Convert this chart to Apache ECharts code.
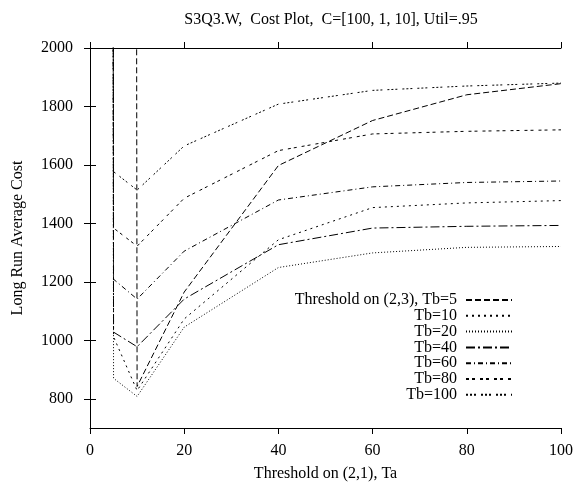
<!DOCTYPE html>
<html><head><meta charset="utf-8">
<script src="https://cdn.jsdelivr.net/npm/echarts@6/dist/echarts.min.js"></script>
<style>html,body{margin:0;padding:0;background:#fff}#c{width:576px;height:487px}</style>
</head><body><div id="c"></div>
<script>
// Threshold on (2,1), Ta
const taValues = [1, 5, 10, 20, 40, 60, 80, 100];
// Long run average cost per Tb (first points lie far above the plotted range)
const tb5   = [60000, 60000, 842, 1165, 1598, 1752, 1840, 1878];
const tb10  = [60000, 1012, 828, 1073, 1344, 1454, 1470, 1478];
const tb20  = [60000, 870, 808, 1045, 1249, 1299, 1318, 1321];
const tb40  = [60000, 1028, 978, 1141, 1327, 1384, 1390, 1393];
const tb60  = [60000, 1209, 1141, 1305, 1480, 1525, 1540, 1545];
const tb80  = [60000, 1384, 1322, 1486, 1649, 1706, 1715, 1720];
const tb100 = [60000, 1577, 1514, 1665, 1808, 1855, 1870, 1880];
const seriesNames = ['Threshold on (2,3), Tb=5', 'Tb=10', 'Tb=20', 'Tb=40', 'Tb=60', 'Tb=80', 'Tb=100'];
const xTicks = [0, 20, 40, 60, 80, 100];
const yTicks = [800, 1000, 1200, 1400, 1600, 1800, 2000];

const seriesValues = [tb5, tb10, tb20, tb40, tb60, tb80, tb100];
const dashes = [[6,3], [2,4], [1,2], [9,3,2,3], [5,3,1,3], [3,3,3,5], [2,2,2,2,2,5]];
const FONT = 'Liberation Serif';
const FS = 16;
const legendTops = [299, 314.8, 330.6, 346.4, 362.2, 378, 393.8];

const chart = echarts.init(document.getElementById('c'), null, {renderer: 'canvas'});
const series = seriesNames.map((n, i) => ({
  name: n, type: 'line', symbol: 'none', clip: true, animation: false,
  data: taValues.map((x, k) => [x, seriesValues[i][k]]),
  lineStyle: {color: '#000', width: 1, type: dashes[i]},
  itemStyle: {color: '#000'},
  emphasis: {disabled: true}
}));
const legends = seriesNames.map((n, i) => ({
  data: [n], orient: 'vertical', right: 63, top: legendTops[i] - 7,
  align: 'right', itemWidth: 46, itemHeight: 14, padding: 0, selectedMode: false,
  itemStyle: {opacity: 0},
  textStyle: {fontFamily: FONT, fontSize: FS, color: '#000', padding: [0, 4, 0, 0]}
}));
const axisCommon = {
  axisLine: {show: true, lineStyle: {color: '#000', width: 1}},
  splitLine: {show: false},
  axisTick: {show: true, inside: false, length: 6, lineStyle: {color: '#000'}}
};
chart.setOption({
  animation: false,
  backgroundColor: '#fff',
  title: {text: 'S3Q3.W,  Cost Plot,  C=[100, 1, 10], Util=.95', left: 326, top: 7, textAlign: 'center',
    textStyle: {fontFamily: FONT, fontSize: FS, fontWeight: 'normal', color: '#000'}},
  legend: legends,
  grid: {left: 90, right: 14, top: 48, bottom: 55, containLabel: false},
  xAxis: [
    Object.assign({type: 'value', min: 0, max: 100, interval: 20, position: 'bottom',
      name: 'Threshold on (2,1), Ta', nameLocation: 'middle', nameGap: 38,
      nameTextStyle: {fontFamily: FONT, fontSize: FS, color: '#000'},
      axisLabel: {margin: 15, fontFamily: FONT, fontSize: FS, color: '#000',
        customValues: xTicks}}, axisCommon),
    Object.assign({type: 'value', min: 0, max: 100, interval: 20, position: 'top',
      axisLabel: {show: false}}, axisCommon)
  ],
  yAxis: [
    Object.assign({type: 'value', min: 700, max: 2000, position: 'left',
      name: 'Long Run Average Cost', nameLocation: 'middle', nameGap: 64,
      nameTextStyle: {fontFamily: FONT, fontSize: FS, color: '#000'},
      axisLabel: {margin: 17, fontFamily: FONT, fontSize: FS, color: '#000', customValues: yTicks,
        formatter: v => String(v)}},
      axisCommon, {axisTick: {show: true, length: 6, lineStyle: {color: '#000'}, customValues: yTicks}}),
    Object.assign({type: 'value', min: 700, max: 2000, position: 'right',
      axisLabel: {show: false, customValues: yTicks}},
      axisCommon, {axisTick: {show: true, length: 6, lineStyle: {color: '#000'}, customValues: yTicks}})
  ],
  series: series
});
</script></body></html>
